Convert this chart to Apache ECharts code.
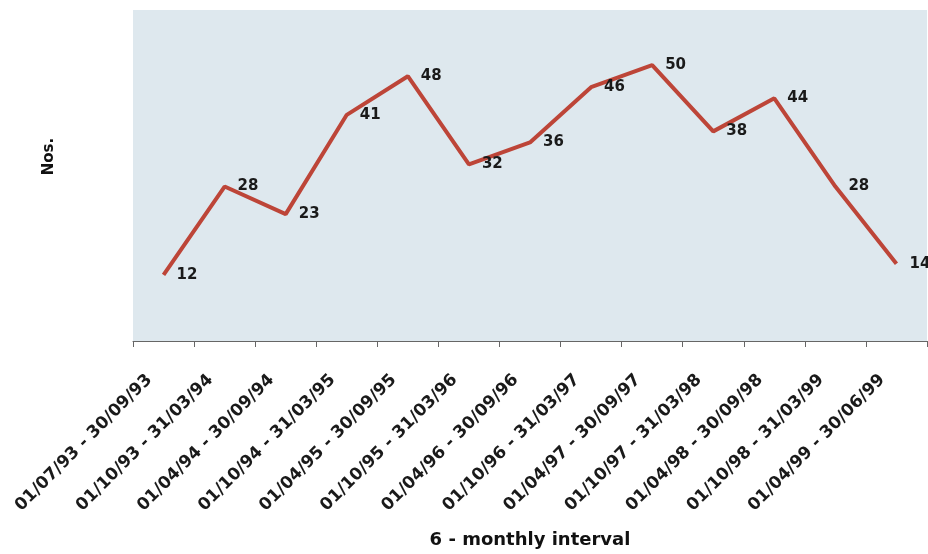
<!DOCTYPE html>
<html>
<head>
<meta charset="utf-8">
<script src="https://cdn.jsdelivr.net/npm/echarts@6/dist/echarts.min.js"></script>
<style>
  html, body { margin: 0; padding: 0; background: #ffffff; }
  #chart { width: 928px; height: 554px; }
</style>
</head>
<body>
<div id="chart"></div>
<script>
// Six-monthly intervals and the count recorded in each
const intervals = [
  '01/07/93 - 30/09/93', '01/10/93 - 31/03/94', '01/04/94 - 30/09/94',
  '01/10/94 - 31/03/95', '01/04/95 - 30/09/95', '01/10/95 - 31/03/96',
  '01/04/96 - 30/09/96', '01/10/96 - 31/03/97', '01/04/97 - 30/09/97',
  '01/10/97 - 31/03/98', '01/04/98 - 30/09/98', '01/10/98 - 31/03/99',
  '01/04/99 - 30/06/99'
];
const counts = [12, 28, 23, 41, 48, 32, 36, 46, 50, 38, 44, 28, 14];

const xAxisTitle = '6 - monthly interval';
const yAxisTitle = 'Nos.';

const font = '"DejaVu Sans", "Liberation Sans", Arial, sans-serif';

const chart = echarts.init(document.getElementById('chart'), null, { renderer: 'canvas' });

chart.setOption({
  animation: false,
  backgroundColor: '#ffffff',
  grid: {
    left: 133, right: 1, top: 10, bottom: 213,
    show: true,
    backgroundColor: '#dee8ee',
    borderWidth: 0
  },
  xAxis: {
    type: 'category',
    data: intervals,
    boundaryGap: true,
    name: xAxisTitle,
    nameLocation: 'middle',
    nameGap: 190,
    nameTextStyle: { fontFamily: font, fontWeight: 'bold', fontSize: 18, color: '#111' },
    axisLine: { lineStyle: { color: '#666', width: 1 } },
    axisTick: { show: true, alignWithLabel: false, length: 6, lineStyle: { color: '#666' } },
    axisLabel: {
      rotate: 45,
      interval: 0,
      margin: 22,
      padding: [0, 20, 0, 0],
      fontFamily: font,
      fontWeight: 'bold',
      fontSize: 17,
      color: '#1a1a1a'
    },
    splitLine: { show: false }
  },
  yAxis: {
    type: 'value',
    min: 0,
    max: 60,
    interval: 10,
    name: yAxisTitle,
    nameLocation: 'middle',
    nameGap: 76,
    nameRotate: 90,
    nameTextStyle: { fontFamily: font, fontWeight: 'bold', fontSize: 15, color: '#111', padding: [0, 0, 0, 38] },
    axisLine: { show: false },
    axisTick: { show: false },
    axisLabel: { show: false },
    splitLine: { show: false }
  },
  series: [{
    type: 'line',
    data: counts,
    symbol: 'circle',
    symbolSize: 2,
    showSymbol: true,
    itemStyle: { color: 'transparent', borderWidth: 0 },
    lineStyle: { color: '#bd4538', width: 4 },
    label: {
      show: true,
      position: 'right',
      distance: 12,
      fontFamily: font,
      fontWeight: 'bold',
      fontSize: 15,
      color: '#1a1a1a'
    }
  }]
});
</script>
</body>
</html>
